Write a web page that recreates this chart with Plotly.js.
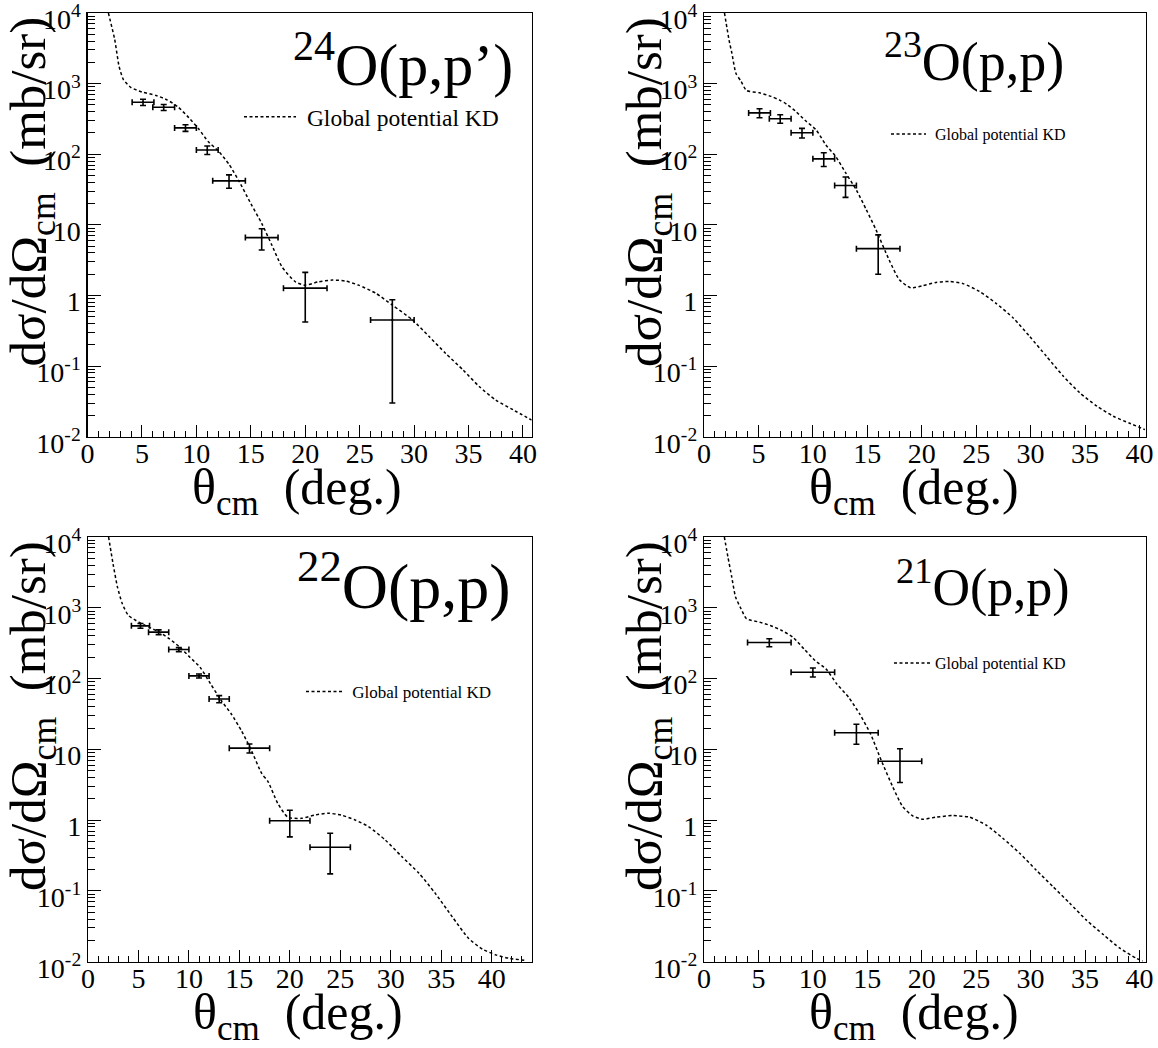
<!DOCTYPE html>
<html>
<head>
<meta charset="utf-8">
<script src="https://cdn.plot.ly/plotly-3.0.1.min.js"></script>
<style>html,body{margin:0;padding:0;background:#fff;}#chart{width:1158px;height:1048px;}</style>
</head>
<body>
<div id="chart"></div>
<script>
// ---------------- DATA ----------------
// 24O(p,p')
const o24_theta = [5.1, 7.0, 9.0, 11.0, 13.0, 16.0, 20.0, 28.0];
const o24_thetaErr = [1, 1, 1, 1, 1.5, 1.5, 2, 2];
const o24_xs = [545, 462, 236, 115, 42, 6.6, 1.27, 0.45];
const o24_xsErr = [55, 45, 25, 16, 9, 2.2, 0.85, 0.42];
const o24_kdTheta = [1.92, 2.5, 2.9, 3.3, 4.0, 5.0, 6.3, 7.3, 8.3, 9.3, 10.2, 11.1, 12.0, 13.0, 13.9, 15.0, 16.0, 16.9, 17.86, 19.1, 20.0, 21.2, 22.5, 23.7, 24.9, 26.5, 28.0, 29.85, 31.4, 32.9, 34.5, 36.0, 37.5, 39.1, 40.8];
const o24_kdXs = [10000, 4200, 1760, 1140, 880, 760, 680, 590, 470, 330, 230, 150, 112, 72, 42, 20, 10.5, 5.3, 2.55, 1.56, 1.40, 1.56, 1.65, 1.60, 1.40, 1.07, 0.73, 0.45, 0.26, 0.151, 0.088, 0.051, 0.033, 0.024, 0.0172];

// 23O(p,p)
const o23_theta = [5.1, 7.0, 9.0, 11.0, 13.0, 16.0];
const o23_thetaErr = [1, 1, 1, 1, 1, 2];
const o23_xs = [385, 318, 201, 86, 36, 4.6];
const o23_xsErr = [56, 44, 31, 19, 11.5, 2.6];
const o23_kdTheta = [1.88, 2.3, 2.56, 2.93, 3.4, 3.9, 5.1, 6.15, 6.9, 7.6, 8.45, 9.3, 10.3, 11.2, 12.1, 13.0, 14.0, 14.9, 15.8, 17.0, 17.95, 19.0, 20.1, 21.3, 22.5, 23.8, 25.3, 26.8, 28.4, 29.9, 31.45, 33.0, 34.5, 36.1, 37.6, 39.1, 40.5];
const o23_kdXs = [10000, 4150, 2700, 1400, 1080, 800, 740, 660, 590, 510, 402, 300, 221, 135, 93, 55, 31, 16.5, 8.5, 3.2, 1.67, 1.28, 1.38, 1.53, 1.58, 1.47, 1.14, 0.78, 0.48, 0.264, 0.138, 0.072, 0.042, 0.027, 0.0195, 0.0155, 0.0126];

// 22O(p,p)
const o22_theta = [5.2, 7.0, 9.0, 11.0, 13.0, 16.0, 20.0, 24.0];
const o22_thetaErr = [0.9, 1, 1, 1, 1, 2, 2, 2];
const o22_xs = [556, 453, 257, 109, 51.5, 10.4, 0.98, 0.414];
const o22_xsErr = [43, 35, 17, 7, 6, 1.5, 0.4, 0.24];
const o22_kdTheta = [2.04, 2.48, 2.92, 3.4, 4.0, 5.03, 6.04, 7.06, 8.08, 9.1, 10.1, 11.1, 12.15, 13.2, 14.2, 15.2, 16.2, 17.2, 17.84, 18.8, 19.8, 21.15, 22.5, 23.8, 25.1, 26.5, 27.8, 29.45, 31.1, 32.8, 34.4, 36.1, 37.7, 39.1, 40.4, 41.7, 43.4];
const o22_kdXs = [10000, 4200, 1960, 1140, 780, 627, 532, 453, 364, 277, 200, 145, 84, 49, 31.6, 18.4, 9.6, 4.6, 3.5, 1.73, 1.10, 1.06, 1.18, 1.25, 1.18, 1.0, 0.81, 0.525, 0.305, 0.178, 0.093, 0.043, 0.0215, 0.015, 0.0125, 0.0112, 0.0104];

// 21O(p,p)
const o21_theta = [6.0, 10.0, 14.0, 18.0];
const o21_thetaErr = [2, 2, 2, 2];
const o21_xs = [323, 123, 17.2, 6.8];
const o21_xsErr = [42, 18, 5.4, 3.4];
const o21_kdTheta = [1.87, 2.2, 2.55, 2.9, 3.4, 3.9, 5.1, 6.1, 7.14, 8.16, 9.18, 10.2, 11.2, 12.2, 13.3, 14.3, 15.3, 16.26, 17.33, 18.25, 19.17, 20.1, 21.3, 22.85, 24.4, 25.9, 27.45, 29.0, 30.5, 32.05, 33.6, 35.1, 36.7, 38.2, 39.7, 40.3];
const o21_kdXs = [10000, 5200, 2720, 1420, 970, 700, 627, 562, 478, 385, 263, 180, 137, 84, 54, 31.6, 16.5, 7.1, 2.97, 1.55, 1.15, 1.03, 1.10, 1.16, 1.10, 0.855, 0.555, 0.34, 0.198, 0.115, 0.067, 0.039, 0.024, 0.0155, 0.0112, 0.0102];

// Labels
const panelTitles = ["<sup>24</sup>O(p,p’)", "<sup>23</sup>O(p,p)", "<sup>22</sup>O(p,p)", "<sup>21</sup>O(p,p)"];
const legendLabel = "Global potential KD";
const yTickVals = [0.01, 0.1, 1, 10, 100, 1000, 10000];
const yTickText = ["10<sup>-2</sup>", "10<sup>-1</sup>", "1", "10", "10<sup>2</sup>", "10<sup>3</sup>", "10<sup>4</sup>"];
const yTitle = "dσ/dΩ<sub>cm</sub>\u00a0\u00a0(mb/sr)";
const xTitle = "θ<sub>cm</sub>\u00a0\u00a0(deg.)";

// ---------------- LAYOUT ----------------
const W = 1158, H = 1048;
const FONT = "Liberation Serif";
const panels = [
  {theta: o24_theta, thetaErr: o24_thetaErr, xs: o24_xs, xsErr: o24_xsErr, kdT: o24_kdTheta, kdX: o24_kdXs,
   px: [87.5, 531.7], py: [13, 436.7], xr: [0, 40.8], title: panelTitles[0], tsize: 60, tx: 515, ty: 60,
   leg: {x: 239, y: 117, size: 23.5, iw: 52, pad: 1}},
  {theta: o23_theta, thetaErr: o23_thetaErr, xs: o23_xs, xsErr: o23_xsErr, kdT: o23_kdTheta, kdX: o23_kdXs,
   px: [704, 1146], py: [13, 436.7], xr: [0, 40.6], title: panelTitles[1], tsize: 54, tx: 1066, ty: 58,
   leg: {x: 886, y: 134, size: 16, iw: 35, pad: 1}},
  {theta: o22_theta, thetaErr: o22_thetaErr, xs: o22_xs, xsErr: o22_xsErr, kdT: o22_kdTheta, kdX: o22_kdXs,
   px: [88, 532], py: [537, 961.7], xr: [0, 44], title: panelTitles[2], tsize: 64, tx: 513, ty: 581,
   leg: {x: 301, y: 692, size: 17, iw: 37, pad: 1}},
  {theta: o21_theta, thetaErr: o21_thetaErr, xs: o21_xs, xsErr: o21_xsErr, kdT: o21_kdTheta, kdX: o21_kdXs,
   px: [704, 1146], py: [537, 961.7], xr: [0, 40.6], title: panelTitles[3], tsize: 52, tx: 1072, ty: 584,
   leg: {x: 889, y: 663, size: 16, iw: 36, pad: 0}}
];

const minorVals = [];
for (let e = -2; e < 4; e++) for (let m = 2; m <= 9; m++) minorVals.push(m * Math.pow(10, e));

const traces = [];
const layout = {
  width: W, height: H, autosize: false,
  margin: {l: 0, r: 0, t: 0, b: 0, pad: 0},
  paper_bgcolor: "#ffffff", plot_bgcolor: "#ffffff",
  font: {family: FONT, color: "#000"},
  showlegend: true,
  annotations: []
};

panels.forEach((p, i) => {
  const n = i === 0 ? "" : String(i + 1);
  const xa = "x" + n, ya = "y" + n;
  const legName = i === 0 ? "legend" : "legend" + (i + 1);
  traces.push({
    type: "scatter", mode: "lines", x: p.kdT, y: p.kdX, xaxis: xa, yaxis: ya,
    name: "\u00a0".repeat(p.leg.pad) + legendLabel, legend: legName,
    line: {color: "#000", width: 1.5, dash: "3px,2.5px", shape: "spline", smoothing: 0.6},
    hoverinfo: "skip"
  });
  traces.push({
    type: "scatter", mode: "markers", x: p.theta, y: p.xs, xaxis: xa, yaxis: ya,
    showlegend: false, marker: {size: 2, color: "#000"},
    error_x: {type: "data", array: p.thetaErr, visible: true, color: "#000", thickness: 1.6, width: 3},
    error_y: {type: "data", array: p.xsErr, visible: true, color: "#000", thickness: 1.6, width: 3}
  });
  layout["xaxis" + n] = {
    domain: [p.px[0] / W, p.px[1] / W], anchor: ya, range: p.xr,
    showline: true, mirror: true, linecolor: "#000", linewidth: 1.2,
    showgrid: false, zeroline: false,
    ticks: "inside", ticklen: 12, tickwidth: 1, tickcolor: "#000",
    tickmode: "linear", tick0: 0, dtick: 5,
    minor: {ticks: "inside", ticklen: 6, tickwidth: 1, tickcolor: "#000", dtick: 1, tick0: 0, showgrid: false},
    tickfont: {family: FONT, size: 28, color: "#000"},
    ticklabelstandoff: -9,
    ticklabeloverflow: "allow"
  };
  layout["yaxis" + n] = {
    domain: [1 - p.py[1] / H, 1 - p.py[0] / H], anchor: xa, type: "log", range: [-2, 4],
    showline: true, mirror: true, linecolor: "#000", linewidth: 1.2,
    showgrid: false, zeroline: false,
    ticks: "inside", ticklen: 13, tickwidth: 1, tickcolor: "#000",
    tickmode: "array", tickvals: yTickVals, ticktext: yTickText,
    minor: {ticks: "inside", ticklen: 7, tickwidth: 1, tickcolor: "#000", tickmode: "array", tickvals: minorVals, showgrid: false},
    tickfont: {family: FONT, size: 28, color: "#000"},
    ticklabelshift: 6,
    ticklabeloverflow: "allow"
  };
  layout[legName] = {
    x: p.leg.x / W, y: 1 - p.leg.y / H, xanchor: "left", yanchor: "middle",
    bgcolor: "rgba(0,0,0,0)", borderwidth: 0,
    font: {family: FONT, size: p.leg.size, color: "#000"},
    itemwidth: p.leg.iw, tracegroupgap: 0
  };
  // panel title
  layout.annotations.push({
    xref: "paper", yref: "paper", x: p.tx / W, y: 1 - p.ty / H, xanchor: "right", yanchor: "middle",
    text: p.title, showarrow: false, font: {family: FONT, size: p.tsize, color: "#000"}
  });
  // y axis title
  layout.annotations.push({
    xref: "paper", yref: "paper", x: (p.px[0] - 56) / W, y: 1 - (p.py[0] + 179) / H,
    xanchor: "center", yanchor: "middle", textangle: -90,
    text: yTitle, showarrow: false, font: {family: FONT, size: 51, color: "#000"}
  });
  // x axis title
  layout.annotations.push({
    xref: "paper", yref: "paper", x: (p.px[0] + 209.5) / W, y: 1 - (p.py[1] + 54) / H,
    xanchor: "center", yanchor: "middle",
    text: xTitle, showarrow: false, font: {family: FONT, size: 50, color: "#000"}
  });
});

Plotly.newPlot("chart", traces, layout, {staticPlot: true, displayModeBar: false});
</script>
</body>
</html>
